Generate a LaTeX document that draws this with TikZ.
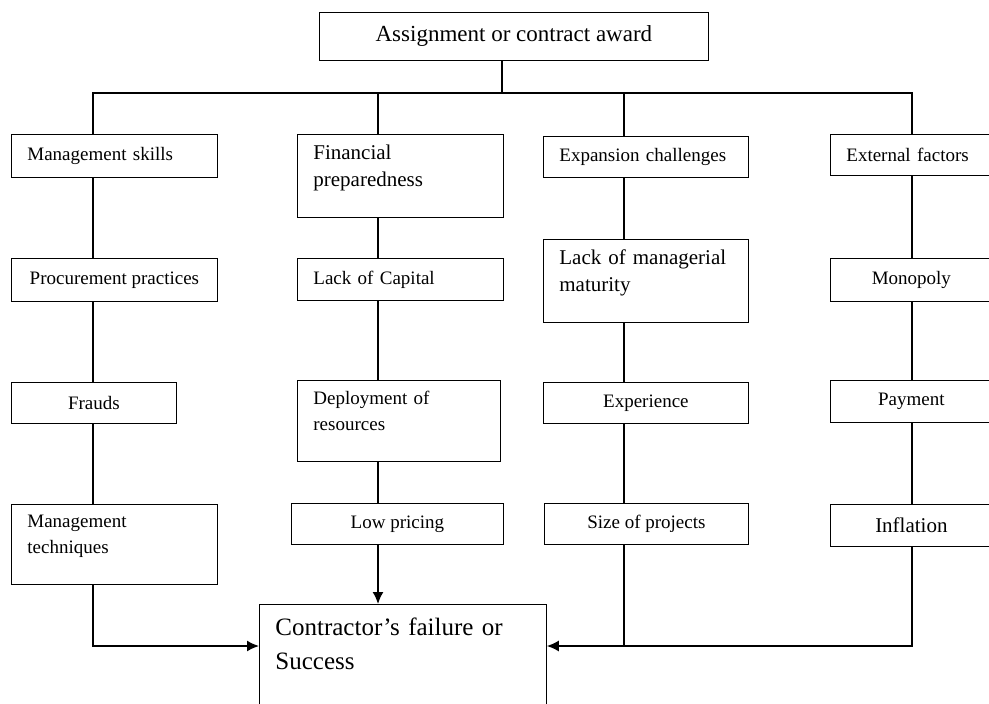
\documentclass[tikz,border=0pt]{standalone}
\usepackage{fontspec}
\setmainfont{Liberation Serif}
\usetikzlibrary{arrows.meta}

\tikzset{
  box/.style={draw, line width=0.8pt, anchor=north west, inner xsep=16pt, inner ysep=0pt,
    font=\fontsize{19}{26}\selectfont},
  tallbox/.style={box, inner ysep=10.5pt, text depth=47pt, align=left},
  widetext/.style={font=\fontsize{21}{27}\selectfont},
  link/.style={line width=1.6pt},
  arrow/.style={link, -{Latex[length=12pt,width=11pt]}}
}

\begin{document}
\begin{tikzpicture}[x=1pt, y=-1pt]
  \useasboundingbox (0,0) rectangle (989,704);

  % top
  \node[box, minimum width=389pt, minimum height=48pt, font=\fontsize{23}{28}\selectfont]
    (award) at (319,12) {Assignment or contract award};

  % first column
  \node[box, text width=174pt, align=left, minimum height=43pt] (ms) at (11,134) {Management skills};
  \node[box, minimum width=206pt, minimum height=43pt] (pp) at (11,258) {Procurement practices};
  \node[box, minimum width=165pt, minimum height=41pt] (fr) at (11,382) {Frauds};
  \node[tallbox, text width=174pt] (mt) at (11,504) {Management\\techniques};

  % second column
  \node[tallbox, widetext, text width=174pt] (fp) at (297,134) {Financial\\preparedness};
  \node[box, text width=174pt, align=left, minimum height=42pt] (lc) at (297,258) {Lack of Capital};
  \node[tallbox, text width=171pt] (dr) at (297,380) {Deployment of\\resources};
  \node[box, minimum width=212pt, minimum height=41pt] (lp) at (291,503) {Low pricing};

  % third column
  \node[box, text width=173pt, align=left, minimum height=41pt] (ec) at (543,136) {Expansion challenges};
  \node[tallbox, widetext, text width=173pt] (lm) at (543,239) {Lack of managerial\\maturity};
  \node[box, minimum width=205pt, minimum height=41pt] (ex) at (543,382) {Experience};
  \node[box, minimum width=204pt, minimum height=41pt] (sp) at (544,503) {Size of projects};

  % fourth column
  \node[box, text width=130pt, align=left, minimum height=41pt] (ef) at (830,134) {External factors};
  \node[box, text width=130pt, align=center, minimum height=43pt] (mo) at (830,258) {Monopoly};
  \node[box, text width=130pt, align=center, minimum height=42pt] (pa) at (830,380) {Payment};
  \node[box, widetext, text width=130pt, align=center, minimum height=42pt] (infl) at (830,504) {Inflation};

  % result
  \node[box, text width=255pt, align=left, inner ysep=13pt, text depth=120pt,
    font=\fontsize{25}{34}\selectfont] (cs) at (259,604) {Contractor’s failure or\\Success};

  \coordinate (j) at (502,93);
  \coordinate (c1) at (93,93);
  \coordinate (c2) at (378,93);
  \coordinate (c3) at (624,93);
  \coordinate (c4) at (912,93);
  \coordinate (bot) at (0,646);

  \draw[link] (award.south -| j) -- (j);
  \draw[link] (ms.north -| c1) |- (c4) -- (ef.north -| c4);
  \draw[link] (c2) -- (fp.north -| c2);
  \draw[link] (c3) -- (ec.north -| c3);

  \draw[link] (ms.south -| c1) -- (pp.north -| c1);
  \draw[link] (pp.south -| c1) -- (fr.north -| c1);
  \draw[link] (fr.south -| c1) -- (mt.north -| c1);
  \draw[arrow] (mt.south -| c1) |- (cs.west |- bot);

  \draw[link] (fp.south -| c2) -- (lc.north -| c2);
  \draw[link] (lc.south -| c2) -- (dr.north -| c2);
  \draw[link] (dr.south -| c2) -- (lp.north -| c2);
  \draw[arrow] (lp.south -| c2) -- (cs.north -| c2);

  \draw[link] (ec.south -| c3) -- (lm.north -| c3);
  \draw[link] (lm.south -| c3) -- (ex.north -| c3);
  \draw[link] (ex.south -| c3) -- (sp.north -| c3);
  \draw[link] (sp.south -| c3) -- (c3 |- bot);

  \draw[link] (ef.south -| c4) -- (mo.north -| c4);
  \draw[link] (mo.south -| c4) -- (pa.north -| c4);
  \draw[link] (pa.south -| c4) -- (infl.north -| c4);
  \draw[arrow] (infl.south -| c4) |- (cs.east |- bot);
\end{tikzpicture}
\end{document}
